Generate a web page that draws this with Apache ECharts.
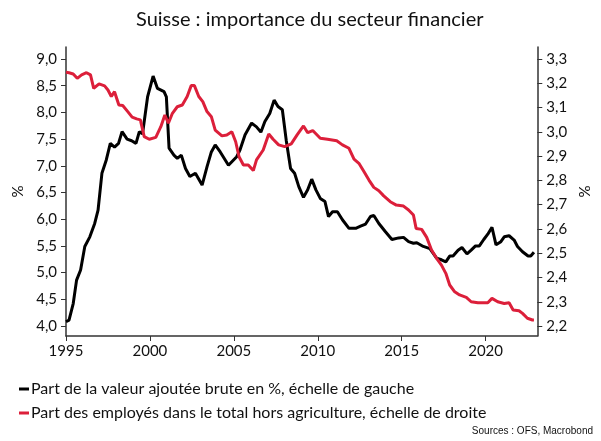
<!DOCTYPE html>
<html>
<head>
<meta charset="utf-8">
<script src="https://cdn.jsdelivr.net/npm/echarts@6/dist/echarts.min.js"></script>
<style>html,body{margin:0;padding:0;background:#fff}#c{width:601px;height:441px}</style>
</head>
<body>
<div id="c"></div>
<script>
const titleText = 'Suisse : importance du secteur financier';
const seriesNames = ['Part de la valeur ajoutée brute en %, échelle de gauche', 'Part des employés dans le total hors agriculture, échelle de droite'];
const sourceText = 'Sources : OFS, Macrobond';
const xTicks = [1995, 2000, 2005, 2010, 2015, 2020];
const leftTicks = [4.0, 4.5, 5.0, 5.5, 6.0, 6.5, 7.0, 7.5, 8.0, 8.5, 9.0];
const rightTicks = [2.2, 2.3, 2.4, 2.5, 2.6, 2.7, 2.8, 2.9, 3.0, 3.1, 3.2, 3.3];

const vaYears = [1995.0,1995.18,1995.43,1995.63,1995.87,1996.12,1996.42,1996.71,1996.91,1997.14,1997.40,1997.64,1997.89,1998.13,1998.34,1998.64,1998.91,1999.17,1999.37,1999.56,1999.86,2000.19,2000.45,2000.84,2000.98,2001.14,2001.43,2001.63,2001.87,2002.12,2002.38,2002.71,2003.11,2003.40,2003.66,2003.89,2004.19,2004.68,2005.17,2005.37,2005.67,2006.06,2006.35,2006.61,2006.85,2007.14,2007.40,2007.63,2007.89,2008.12,2008.38,2008.62,2008.87,2009.15,2009.40,2009.64,2009.89,2010.15,2010.43,2010.64,2010.88,2011.17,2011.47,2011.86,2012.26,2012.55,2012.85,2013.14,2013.34,2013.64,2014.02,2014.42,2014.82,2015.11,2015.41,2015.70,2015.90,2016.29,2016.68,2017.08,2017.37,2017.63,2017.86,2018.06,2018.36,2018.59,2018.89,2019.14,2019.40,2019.63,2019.89,2020.13,2020.38,2020.62,2020.91,2021.11,2021.40,2021.70,2021.90,2022.20,2022.53,2022.69,2022.88];
const vaValues = [4.08,4.11,4.42,4.86,5.05,5.49,5.67,5.92,6.17,6.86,7.11,7.42,7.35,7.42,7.64,7.50,7.47,7.42,7.64,7.60,8.29,8.68,8.45,8.39,8.29,7.33,7.20,7.14,7.20,6.95,6.80,6.86,6.64,6.98,7.26,7.39,7.26,7.01,7.17,7.30,7.58,7.80,7.73,7.63,7.83,7.98,8.23,8.11,8.05,7.48,6.95,6.86,6.61,6.41,6.55,6.75,6.55,6.39,6.33,6.05,6.14,6.14,5.99,5.83,5.83,5.87,5.91,6.05,6.07,5.92,5.77,5.62,5.65,5.66,5.58,5.55,5.56,5.49,5.45,5.27,5.24,5.20,5.31,5.31,5.42,5.47,5.35,5.42,5.50,5.50,5.62,5.72,5.85,5.52,5.58,5.67,5.69,5.61,5.49,5.39,5.31,5.31,5.38];

const empYears = [1995.0,1995.18,1995.43,1995.67,1995.93,1996.22,1996.46,1996.65,1996.97,1997.30,1997.50,1997.70,1997.89,1998.15,1998.38,1998.68,1998.94,1999.21,1999.43,1999.66,1999.96,2000.35,2000.65,2000.89,2001.10,2001.34,2001.63,2001.93,2002.22,2002.46,2002.65,2002.91,2003.15,2003.40,2003.66,2003.89,2004.29,2004.58,2004.88,2005.11,2005.31,2005.57,2005.86,2006.16,2006.35,2006.75,2007.08,2007.34,2007.67,2008.03,2008.42,2008.77,2009.15,2009.40,2009.70,2010.15,2010.58,2011.13,2011.47,2011.86,2012.16,2012.45,2012.75,2013.05,2013.34,2013.64,2013.93,2014.32,2014.68,2015.11,2015.41,2015.70,2015.86,2016.19,2016.49,2016.78,2017.08,2017.37,2017.63,2017.86,2018.16,2018.45,2018.85,2019.14,2019.54,2020.13,2020.38,2020.72,2021.11,2021.40,2021.64,2021.99,2022.20,2022.49,2022.79,2022.88];
const empValues = [3.245,3.243,3.238,3.220,3.234,3.243,3.234,3.179,3.197,3.189,3.172,3.145,3.165,3.110,3.108,3.083,3.060,3.053,3.049,2.980,2.969,2.977,3.021,3.069,3.035,3.076,3.103,3.110,3.145,3.190,3.190,3.145,3.124,3.083,3.062,3.007,2.983,2.987,3.000,2.959,2.897,2.863,2.863,2.840,2.884,2.925,2.991,2.969,2.946,2.939,2.950,2.987,3.024,2.996,3.005,2.973,2.969,2.963,2.946,2.932,2.887,2.870,2.836,2.801,2.771,2.757,2.736,2.712,2.698,2.694,2.678,2.657,2.602,2.598,2.565,2.513,2.479,2.451,2.417,2.369,2.341,2.328,2.318,2.300,2.296,2.296,2.314,2.300,2.293,2.296,2.266,2.263,2.252,2.232,2.225,2.225];

const FONT = 'Lato';
const fmt = v => Number(v).toFixed(1).replace('.', ',');
const chart = echarts.init(document.getElementById('c'), null, {renderer: 'canvas'});
chart.setOption({
  animation: false,
  backgroundColor: '#fff',
  textStyle: {fontFamily: FONT},
  title: {
    text: titleText, left: 131, top: 5,
    textStyle: {fontFamily: FONT, fontSize: 20, fontWeight: 'normal', color: '#111'}
  },
  graphic: [{
    type: 'text', right: 8, bottom: 5,
    style: {text: sourceText, fontFamily: 'Liberation Sans', fontSize: 10, fill: '#111'}
  }],
  legend: {
    orient: 'vertical', left: 14, top: 376, itemGap: 8,
    icon: 'rect', itemWidth: 10, itemHeight: 3,
    textStyle: {fontFamily: FONT, fontSize: 16, color: '#111', padding: [0, 0, 0, -3]},
    data: seriesNames
  },
  grid: {left: 66, right: 59, top: 47, bottom: 105},
  xAxis: {
    type: 'value', min: 1995, max: 2023.08,
    splitLine: {show: false},
    axisLine: {lineStyle: {color: '#333', width: 1.5}},
    axisTick: {show: true, length: 5, lineStyle: {color: '#333'}, customValues: xTicks},
    axisLabel: {fontFamily: FONT, fontSize: 15, color: '#111', margin: 8, customValues: xTicks, formatter: v => String(v)}
  },
  yAxis: [{
    type: 'value', position: 'left', min: 3.813, max: 9.225,
    name: '%', nameLocation: 'middle', nameRotate: 90, nameGap: 40,
    nameTextStyle: {fontFamily: FONT, fontSize: 15, color: '#111'},
    splitLine: {show: false},
    axisLine: {show: true, lineStyle: {color: '#333', width: 1.5}},
    axisTick: {show: true, length: 5, lineStyle: {color: '#333'}, customValues: leftTicks},
    axisLabel: {fontFamily: FONT, fontSize: 15, color: '#111', margin: 9, customValues: leftTicks, formatter: fmt}
  }, {
    type: 'value', position: 'right', min: 2.159, max: 3.349,
    name: '%', nameLocation: 'middle', nameRotate: 90, nameGap: 38,
    nameTextStyle: {fontFamily: FONT, fontSize: 15, color: '#111'},
    splitLine: {show: false},
    axisLine: {show: true, lineStyle: {color: '#333', width: 1.5}},
    axisTick: {show: true, length: 5, lineStyle: {color: '#333'}, customValues: rightTicks},
    axisLabel: {fontFamily: FONT, fontSize: 15, color: '#111', margin: 9, customValues: rightTicks, formatter: fmt}
  }],
  series: [{
    name: seriesNames[0], type: 'line', yAxisIndex: 0, symbol: 'none',
    lineStyle: {color: '#000', width: 3}, itemStyle: {color: '#000'},
    data: vaYears.map((y, i) => [y, vaValues[i]])
  }, {
    name: seriesNames[1], type: 'line', yAxisIndex: 1, symbol: 'none',
    lineStyle: {color: '#dc1f3a', width: 3}, itemStyle: {color: '#dc1f3a'},
    data: empYears.map((y, i) => [y, empValues[i]])
  }]
});
</script>
</body>
</html>
